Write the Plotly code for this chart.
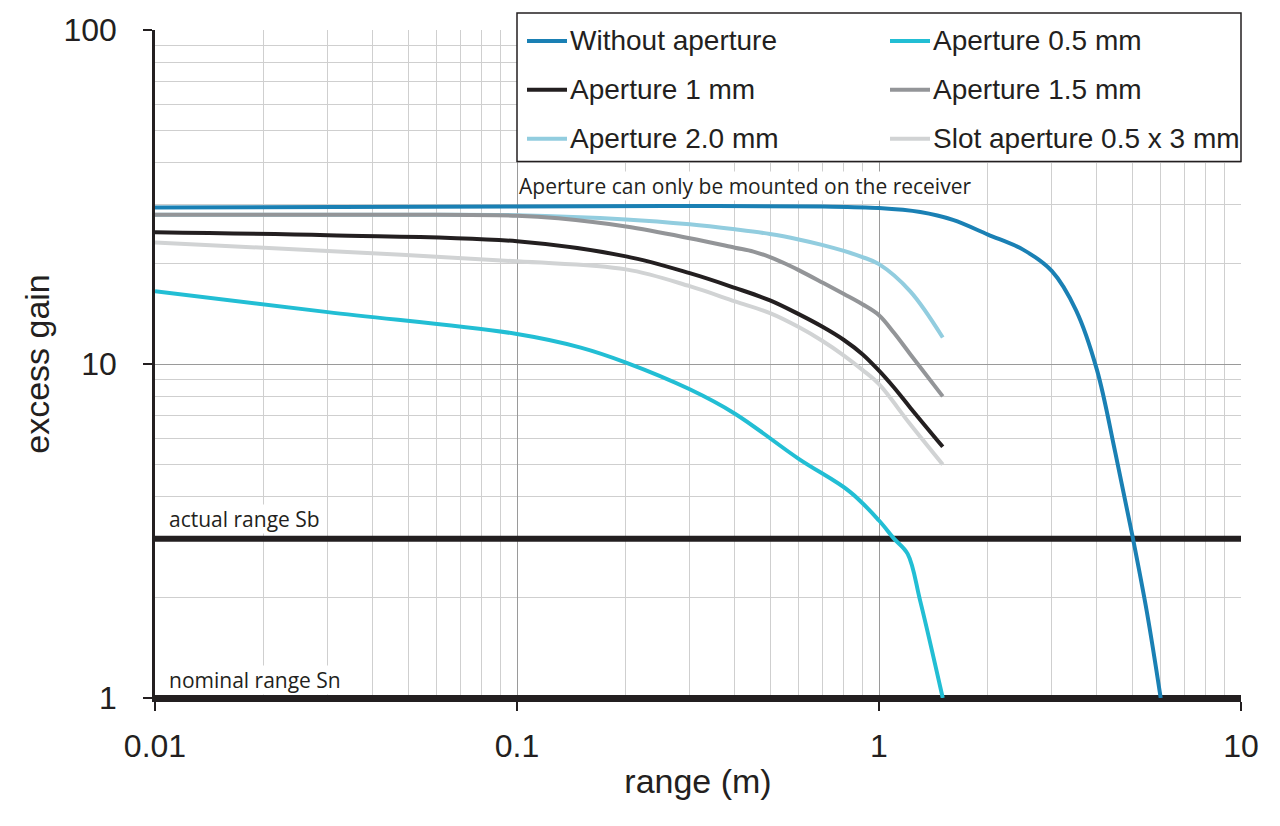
import plotly.graph_objects as go

# series (range in m, excess gain)
x_none = [0.01, 0.1, 0.3, 0.7, 1.0, 1.3, 1.6, 2.0, 2.5, 3.0, 3.5, 4.0, 4.5, 5.0, 5.5, 6.0]
y_none = [29.4, 29.6, 29.7, 29.6, 29.3, 28.5, 27.0, 24.4, 22.0, 19.0, 14.5, 9.6, 5.4, 3.1, 1.8, 1.0]

x_05 = [0.01, 0.03, 0.1, 0.15, 0.2, 0.3, 0.4, 0.6, 0.83, 1.0, 1.1, 1.2, 1.3, 1.5]
y_05 = [16.5, 14.3, 12.3, 11.2, 10.1, 8.4, 7.1, 5.2, 4.15, 3.4, 3.0, 2.7, 1.95, 1.0]

x_1 = [0.01, 0.03, 0.1, 0.2, 0.3, 0.4, 0.5, 0.6, 0.7, 0.8, 0.9, 1.0, 1.1, 1.22, 1.5]
y_1 = [24.8, 24.3, 23.3, 21.0, 18.7, 16.9, 15.5, 14.1, 12.9, 11.8, 10.7, 9.55, 8.5, 7.4, 5.65]

x_15 = [0.01, 0.05, 0.1, 0.13, 0.2, 0.3, 0.4, 0.45, 0.5, 0.55, 0.6, 0.7, 0.8, 0.9, 1.0, 1.1, 1.22, 1.5]
y_15 = [28.0, 28.0, 27.8, 27.3, 25.8, 23.8, 22.3, 21.7, 20.9, 20.0, 19.1, 17.5, 16.2, 15.1, 14.0, 12.4, 10.7, 8.0]

x_20 = [0.01, 0.05, 0.1, 0.2, 0.3, 0.4, 0.5, 0.6, 0.7, 0.8, 0.9, 1.0, 1.22, 1.5]
y_20 = [28.0, 28.0, 27.9, 27.1, 26.2, 25.3, 24.5, 23.6, 22.7, 21.8, 20.9, 19.9, 16.5, 12.0]

x_slot = [0.01, 0.03, 0.1, 0.2, 0.3, 0.4, 0.5, 0.6, 0.7, 0.8, 0.9, 1.0, 1.22, 1.5]
y_slot = [23.1, 21.8, 20.3, 19.2, 17.1, 15.4, 14.2, 12.9, 11.7, 10.6, 9.6, 8.7, 6.6, 5.0]

names = ['Without aperture', 'Aperture 0.5 mm', 'Aperture 1 mm',
         'Aperture 1.5 mm', 'Aperture 2.0 mm', 'Slot aperture 0.5 x 3 mm']
colors = ['#1a80b4', '#22bed4', '#231f20', '#939598', '#92cddf', '#d1d3d4']
series = [(x_none, y_none), (x_05, y_05), (x_1, y_1),
          (x_15, y_15), (x_20, y_20), (x_slot, y_slot)]

x_span = [0.01, 10]
level_sb = 3
level_sn = 1

W, H = 1280, 826
L, R, T, B = 155, 39, 28, 128
def px(x): return (x - L) / (W - L - R)
def py(y): return (H - B - y) / (H - T - B)

fig = go.Figure()
# reference lines
for lev in [level_sb, level_sn]:
    fig.add_trace(go.Scatter(x=x_span, y=[lev, lev], mode='lines',
                             line=dict(color='#231f20', width=6), showlegend=False, hoverinfo='skip'))
# draw in back-to-front order
for i in [5, 4, 3, 2, 1, 0]:
    xs, ys = series[i]
    fig.add_trace(go.Scatter(x=xs, y=ys, mode='lines', name=names[i],
                             line=dict(color=colors[i], width=4, shape='spline', smoothing=1.0),
                             showlegend=False))

txt = '#231f20'
ann = [
    dict(text='Aperture can only be mounted on the receiver', x=px(518), y=py(200)),
    dict(text='actual range Sb', x=px(168), y=py(534)),
    dict(text='nominal range Sn', x=px(168), y=py(695)),
]
for a in ann:
    fig.add_annotation(xref='paper', yref='paper', xanchor='left', yanchor='bottom',
                       showarrow=False, bgcolor='white', borderpad=0,
                       font=dict(family='Open Sans', size=21, color=txt), **a)

# legend box drawn by hand (two columns, three rows)
fig.add_shape(type='rect', xref='paper', yref='paper', x0=px(517), x1=px(1241),
              y0=py(160), y1=py(11), line=dict(color='#231f20', width=1.5), fillcolor='white', layer='above')
col_x = [527, 890]
row_y = [39, 88, 137]
for i, nm in enumerate(names):
    cx = col_x[i % 2]
    ry = row_y[i // 2]
    fig.add_shape(type='line', xref='paper', yref='paper', x0=px(cx), x1=px(cx + 40),
                  y0=py(ry), y1=py(ry), line=dict(color=colors[i], width=4), layer='above')
    fig.add_annotation(xref='paper', yref='paper', x=px(cx + 41), y=py(ry), text=nm,
                       xanchor='left', yanchor='middle', showarrow=False,
                       font=dict(family='Liberation Sans', size=28, color=txt))

fig.update_layout(
    width=W, height=H, margin=dict(l=L, r=R, t=T, b=B),
    paper_bgcolor='white', plot_bgcolor='white',
    font=dict(family='Liberation Sans', color=txt),
    xaxis=dict(type='log', range=[-2, 1], tickvals=[0.01, 0.1, 1, 10], ticktext=['0.01', '0.1', '1', '10'],
               showgrid=True, gridcolor='#9a9a9a', gridwidth=1.2,
               minor=dict(dtick='D1', showgrid=True, gridcolor='#cfcfcf', gridwidth=1.2),
               showline=True, linecolor='#231f20', linewidth=4,
               ticks='outside', ticklen=9, tickwidth=2, tickcolor='#231f20',
               tickfont=dict(size=32), ticklabelstandoff=8,
               title=dict(text='range (m)', font=dict(size=34), standoff=7),
               zeroline=False),
    yaxis=dict(type='log', range=[0, 2], tickvals=[1, 10, 100], ticktext=['1', '10', '100'],
               showgrid=True, gridcolor='#9a9a9a', gridwidth=1.2,
               minor=dict(dtick='D1', showgrid=True, gridcolor='#cfcfcf', gridwidth=1.2),
               showline=True, linecolor='#231f20', linewidth=2.5,
               ticks='outside', ticklen=9, tickwidth=2, tickcolor='#231f20',
               tickfont=dict(size=32), ticklabelstandoff=20,
               title=dict(text='excess gain', font=dict(size=34), standoff=4),
               zeroline=False),
)

fig.write_html('out.html', config={'displayModeBar': False},
               post_script="document.body.style.margin='0px';")
